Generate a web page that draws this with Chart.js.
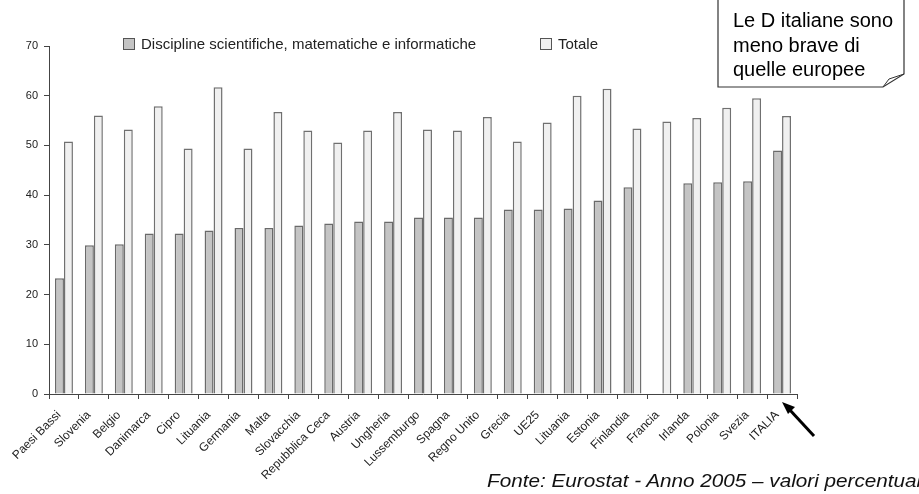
<!DOCTYPE html>
<html>
<head>
<meta charset="utf-8">
<script src="https://cdn.jsdelivr.net/npm/chart.js@4.4.0/dist/chart.umd.min.js"></script>
<style>
    html, body { margin: 0; padding: 0; background: #fff; }
    #wrap { position: relative; width: 919px; height: 494px; overflow: hidden; font-family: 'Liberation Sans', Arial, sans-serif; }
    #myChart { position: absolute; left: 0; top: 0; }
    .leg { position: absolute; top: 35px; font-size: 15px; color: #222; white-space: nowrap; }
    .leg i { display: inline-block; width: 10px; height: 10px; border: 1px solid #555; vertical-align: -1px; margin-right: 6px; }
    #note { position: absolute; left: 733px; top: 8px; font-size: 20px; line-height: 24.5px; color: #000; white-space: nowrap; }
    #fonte { position: absolute; left: 487px; top: 471px; font-size: 18px; font-style: italic; color: #111; white-space: nowrap;
             transform: scaleX(1.15); transform-origin: left top; }
    svg { position: absolute; left: 0; top: 0; }
</style>
</head>
<body>
<div id="wrap">
    <canvas id="myChart" width="919" height="494"></canvas>
    <div class="leg" style="left:123px"><i style="background:#c4c4c4"></i>Discipline scientifiche, matematiche e informatiche</div>
    <div class="leg" style="left:540px"><i style="background:#f0f0f0"></i>Totale</div>
    <svg width="919" height="494">
        <!-- fumetto -->
        <path d="M718,-2 L904,-2 L904,74 L883,87 L718,87 Z" fill="#fff" stroke="#333" stroke-width="1.2"/>
        <path d="M883,87 L889,79 L904,74" fill="none" stroke="#333" stroke-width="1"/>
        <!-- freccia -->
        <line x1="814" y1="436" x2="789" y2="409" stroke="#000" stroke-width="3"/>
        <polygon points="782,402 795,407 788,414" fill="#000"/>
    </svg>
    <div id="note">Le D italiane sono<br>meno brave di<br>quelle europee</div>
    <div id="fonte">Fonte: Eurostat - Anno 2005 – valori percentuali</div>
</div>
<script>
// dati
const paesi = ['Paesi Bassi', 'Slovenia', 'Belgio', 'Danimarca', 'Cipro', 'Lituania', 'Germania', 'Malta',
    'Slovacchia', 'Repubblica Ceca', 'Austria', 'Ungheria', 'Lussemburgo', 'Spagna', 'Regno Unito', 'Grecia',
    'UE25', 'Lituania', 'Estonia', 'Finlandia', 'Francia', 'Irlanda', 'Polonia', 'Svezia', 'ITALIA'];

const discipline = [23.3, 29.9, 30.1, 32.3, 32.3, 32.9, 33.4, 33.4, 33.9, 34.3, 34.7, 34.7, 35.5, 35.5, 35.5,
    37.1, 37.1, 37.3, 38.9, 41.6, null, 42.4, 42.6, 42.8, 49.0];

const totale = [50.8, 56.0, 53.2, 57.9, 49.4, 61.7, 49.4, 56.7, 53.0, 50.6, 53.0, 56.7, 53.2, 53.0, 55.7,
    50.8, 54.6, 60.0, 61.4, 53.4, 54.8, 55.5, 57.6, 59.5, 55.9];

const yMin = 0, yMax = 70, yStep = 10;

const fontFam = "'Liberation Sans', Arial, sans-serif";

const config = {
    type: 'bar',
    data: {
        labels: paesi,
        datasets: [{
            label: 'Discipline scientifiche, matematiche e informatiche',
            data: discipline,
            backgroundColor: '#c4c4c4',
            borderColor: '#6a6a6a',
            borderWidth: 1.5,
            barPercentage: 1,
            categoryPercentage: 0.6,
        }, {
            label: 'Totale',
            data: totale,
            backgroundColor: '#f0f0f0',
            borderColor: '#707070',
            borderWidth: 1.5,
            barPercentage: 1,
            categoryPercentage: 0.6,
        }],
    },
    options: {
        responsive: false,
        animation: false,
        layout: { padding: { top: 46, right: 122, left: 0, bottom: 0 } },
        plugins: {
            legend: false,
            tooltip: false,
        },
        scales: {
            y: {
                min: yMin,
                max: yMax,
                afterFit: (s) => { s.width = 49; },
                grid: { drawOnChartArea: false, drawTicks: true, tickLength: 5, color: '#444' },
                border: { color: '#444', width: 1 },
                ticks: {
                    stepSize: yStep,
                    padding: 6,
                    color: '#222',
                    font: { family: fontFam, size: 11 },
                },
            },
            x: {
                afterFit: (s) => { s.height = 100; },
                grid: { offset: true, drawOnChartArea: false, drawTicks: true, tickLength: 5, color: '#444' },
                border: { color: '#444', width: 1 },
                ticks: {
                    autoSkip: false,
                    maxRotation: 45,
                    minRotation: 45,
                    padding: 9,
                    labelOffset: -5,
                    color: '#222',
                    font: { family: fontFam, size: 12 },
                },
            },
        },
    },
};

new Chart(document.getElementById('myChart'), config);
</script>
</body>
</html>
